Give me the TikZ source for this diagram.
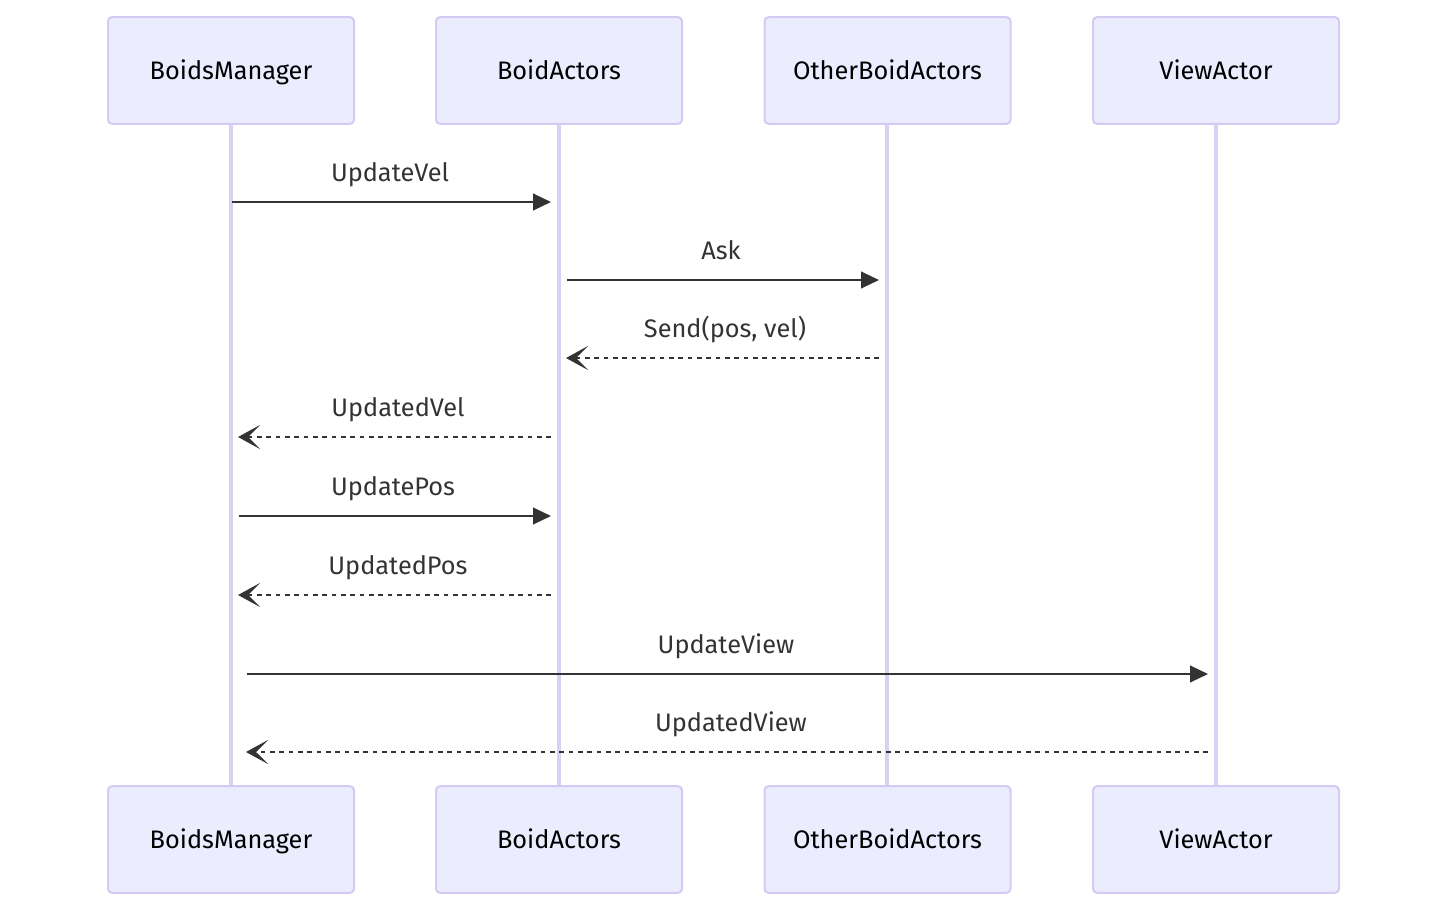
\documentclass[tikz,border=0pt]{standalone}
\usepackage{fontspec}
\setmainfont{Fira Sans}
\usetikzlibrary{arrows.meta}
\definecolor{actfill}{HTML}{ECECFF}
\definecolor{actborder}{HTML}{D3CBF1}
\definecolor{lifeline}{HTML}{D9D0F4}
\definecolor{msg}{HTML}{333333}
\tikzset{
  actor/.style={draw=actborder, line width=1.5pt, fill=actfill, rounded corners=3pt,
    minimum width=184.5pt, minimum height=80pt, inner sep=0pt, font=\fontsize{19}{21}\selectfont,
    text=black, text height=13.5pt, text depth=0pt},
  life/.style={draw=lifeline, line width=2.3pt},
  msgline/.style={draw=msg, line width=1.6pt, -{Triangle[length=13.5pt,width=12.5pt]}},
  msgdash/.style={draw=msg, line width=1.6pt, dash pattern=on 3.5pt off 3.5pt,
    -{Stealth[length=16.5pt,width=18pt,inset=9pt]}},
  lbl/.style={font=\fontsize{19}{21}\selectfont, text=msg, inner sep=0pt, anchor=base}
}
\begin{document}
\begin{tikzpicture}[x=0.75pt,y=-0.75pt]
\useasboundingbox (0,0) rectangle (1447,910);
% lifelines first
\coordinate (l1t) at (231,123); \coordinate (l1b) at (231,785);
\coordinate (l2t) at (559,123); \coordinate (l2b) at (559,785);
\coordinate (l3t) at (887,123); \coordinate (l3b) at (887,785);
\coordinate (l4t) at (1216,123); \coordinate (l4b) at (1216,785);
\draw[life] (l1t) -- (l1b);
\draw[life] (l2t) -- (l2b);
\draw[life] (l3t) -- (l3b);
\draw[life] (l4t) -- (l4b);
% actors top
\node[actor] (bmT) at (231,70.5) {BoidsManager};
\node[actor] (baT) at (559,70.5) {BoidActors};
\node[actor] (obT) at (887.5,70.5) {OtherBoidActors};
\node[actor] (vaT) at (1216,70.5) {ViewActor};
% actors bottom
\node[actor] (bmB) at (231,839.5) {BoidsManager};
\node[actor] (baB) at (559,839.5) {BoidActors};
\node[actor] (obB) at (887.5,839.5) {OtherBoidActors};
\node[actor] (vaB) at (1216,839.5) {ViewActor};
% message end points
\coordinate (m1a) at (232,202); \coordinate (m1b) at (551,202);
\coordinate (m2a) at (567,280); \coordinate (m2b) at (879,280);
\coordinate (m3a) at (879,358); \coordinate (m3b) at (566,358);
\coordinate (m4a) at (551,437); \coordinate (m4b) at (238,437);
\coordinate (m5a) at (239,516); \coordinate (m5b) at (551,516);
\coordinate (m6a) at (551,595); \coordinate (m6b) at (238,595);
\coordinate (m7a) at (247,674); \coordinate (m7b) at (1208,674);
\coordinate (m8a) at (1208,752); \coordinate (m8b) at (246,752);
\draw[msgline] (m1a) -- (m1b);
\draw[msgline] (m2a) -- (m2b);
\draw[msgdash] (m3a) -- (m3b);
\draw[msgdash] (m4a) -- (m4b);
\draw[msgline] (m5a) -- (m5b);
\draw[msgdash] (m6a) -- (m6b);
\draw[msgline] (m7a) -- (m7b);
\draw[msgdash] (m8a) -- (m8b);
% labels
\node[lbl] (t1) at (390,181) {UpdateVel};
\node[lbl] (t2) at (721,259) {Ask};
\node[lbl] (t3) at (725,337) {Send(pos, vel)};
\node[lbl] (t4) at (398,416) {UpdatedVel};
\node[lbl] (t5) at (393,495) {UpdatePos};
\node[lbl] (t6) at (398,574) {UpdatedPos};
\node[lbl] (t7) at (726,653) {UpdateView};
\node[lbl] (t8) at (731,731) {UpdatedView};
\end{tikzpicture}
\end{document}
